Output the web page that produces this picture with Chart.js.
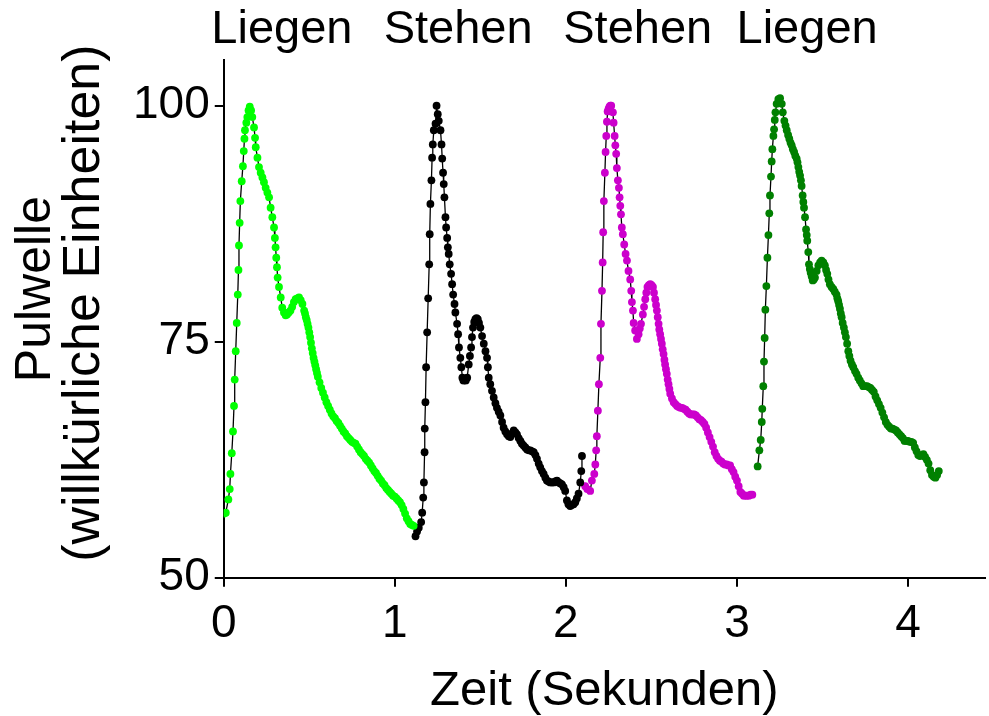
<!DOCTYPE html>
<html>
<head>
<meta charset="utf-8">
<script src="https://cdn.jsdelivr.net/npm/chart.js@4.4.1/dist/chart.umd.min.js"></script>
<style>
  body { margin: 0; background: #fff; }
</style>
</head>
<body>
<canvas id="pulsChart" width="989" height="716"></canvas>
<script>
// Pulse wave data: [time in s, pulse (arbitrary units)]
const liegen1 = [
  [0.002,56.8],[0.012,56.9],[0.027,58.3],[0.035,59.4],[0.039,61.0],[0.047,63.2],[0.054,65.5],[0.060,68.2],
  [0.064,71.0],[0.070,74.0],[0.076,77.0],[0.082,80.0],[0.086,82.6],[0.089,85.2],[0.093,87.6],[0.097,89.9],
  [0.105,92.0],[0.112,93.6],[0.117,95.2],[0.121,96.5],[0.124,97.4],[0.132,98.2],[0.138,98.8],[0.145,99.5],
  [0.152,99.9],[0.160,99.5],[0.167,98.8],[0.177,97.7],[0.183,96.6],[0.187,95.6],[0.197,94.5],[0.206,93.5],
  [0.216,92.9],[0.226,92.4],[0.235,91.9],[0.245,91.3],[0.255,90.8],[0.265,90.3],[0.274,89.2],[0.284,88.2],
  [0.294,87.1],[0.299,86.0],[0.303,85.0],[0.307,83.9],[0.311,82.9],[0.315,81.8],[0.323,80.8],[0.333,79.7],
  [0.342,78.6],[0.352,78.1],[0.362,77.8],[0.37,77.9],[0.38,78.1],[0.39,78.3],[0.40,78.7],[0.41,79.2],
  [0.42,79.5],[0.43,79.6],[0.44,79.7],[0.45,79.4],[0.46,79.0],[0.47,78.3],[0.475,78.0],[0.48,77.6],
  [0.485,77.3],[0.49,76.9],[0.495,76.5],[0.50,76.0],[0.505,75.5],[0.51,74.9],[0.515,74.3],[0.52,73.8],
  [0.525,73.3],[0.53,72.9],[0.535,72.5],[0.54,72.1],[0.545,71.7],[0.55,71.3],[0.56,70.7],[0.57,70.1],
  [0.58,69.6],[0.59,69.1],[0.60,68.6],[0.61,68.2],[0.62,67.8],[0.63,67.4],[0.64,67.1],[0.65,66.9],
  [0.66,66.6],[0.67,66.4],[0.68,66.1],[0.69,65.8],[0.70,65.5],[0.71,65.3],[0.72,65.0],[0.73,64.8],
  [0.74,64.6],[0.75,64.4],[0.76,64.3],[0.77,64.2],[0.78,63.9],[0.79,63.6],[0.80,63.3],[0.81,63.1],
  [0.82,62.9],[0.83,62.6],[0.84,62.4],[0.85,62.2],[0.86,61.9],[0.87,61.6],[0.88,61.3],[0.89,61.1],
  [0.90,60.8],[0.91,60.5],[0.92,60.3],[0.93,60.0],[0.94,59.8],[0.95,59.5],[0.96,59.3],[0.97,59.1],
  [0.98,58.9],[0.99,58.7],[1.00,58.6],[1.01,58.4],[1.02,58.2],[1.03,58.0],[1.04,57.7],[1.05,57.3],
  [1.06,56.8],[1.07,56.3],[1.08,56.0],[1.09,55.7],[1.10,55.6],[1.11,55.5]
];

const stehen1 = [
  [1.121,54.4],[1.130,54.9],[1.140,55.3],[1.154,55.9],[1.160,56.9],[1.166,58.5],[1.170,60.1],[1.174,63.3],
  [1.175,65.8],[1.179,68.6],[1.183,72.3],[1.189,76.0],[1.195,79.6],[1.201,83.2],[1.204,86.4],[1.208,89.6],
  [1.214,92.1],[1.218,94.5],[1.222,95.9],[1.228,97.4],[1.238,98.1],[1.244,100.0],[1.251,99.1],[1.257,98.4],
  [1.267,97.4],[1.273,95.9],[1.277,94.4],[1.282,92.9],[1.286,91.7],[1.290,90.3],[1.296,88.2],[1.300,87.1],
  [1.306,86.0],[1.310,85.0],[1.315,84.3],[1.321,83.2],[1.329,82.2],[1.335,81.1],[1.341,80.0],[1.349,79.0],
  [1.354,78.1],[1.364,76.9],[1.370,75.8],[1.375,74.4],[1.383,73.3],[1.389,72.3],[1.395,71.2],[1.401,70.9],
  [1.407,70.9],[1.415,70.9],[1.423,71.2],[1.432,72.6],[1.439,73.5],[1.446,74.4],[1.451,75.5],[1.457,76.5],
  [1.464,77.1],[1.471,77.4],[1.478,77.5],[1.485,77.4],[1.492,77.0],[1.500,76.5],[1.510,75.6],[1.520,74.8],
  [1.530,74.0],[1.539,73.3],[1.544,72.3],[1.549,71.2],[1.558,70.5],[1.568,69.8],[1.578,69.1],[1.588,68.5],
  [1.597,68.0],[1.607,67.6],[1.617,67.2],[1.627,66.5],[1.636,65.9],[1.646,65.5],[1.656,65.2],[1.666,65.0],
  [1.675,64.9],[1.685,65.3],[1.695,65.6],[1.705,65.4],[1.714,65.2],[1.724,64.8],[1.734,64.5],[1.743,64.2],
  [1.753,64.0],[1.763,63.8],[1.773,63.6],[1.783,63.5],[1.792,63.5],[1.802,63.4],[1.812,63.3],[1.822,63.0],
  [1.831,62.6],[1.841,62.1],[1.850,61.7],[1.860,61.3],[1.870,61.0],[1.880,60.6],[1.889,60.3],[1.899,60.2],
  [1.909,60.1],[1.919,60.1],[1.929,60.1],[1.938,60.2],[1.948,60.3],[1.958,60.1],[1.968,60.0],[1.977,59.9],
  [1.987,59.6],[1.996,59.2],[2.006,58.2],[2.015,57.8],[2.025,57.6],[2.035,57.7],[2.045,57.8],[2.055,58.0],
  [2.064,58.4],[2.074,58.9],[2.084,60.1],[2.090,61.3],[2.094,62.9]
];

const stehen2 = [
  [2.113,59.7],[2.125,59.4],[2.142,59.2],[2.152,60.3],[2.166,61.0],[2.172,62.0],[2.177,63.5],[2.181,65.0],
  [2.187,67.7],[2.193,70.5],[2.201,73.3],[2.205,76.9],[2.211,80.4],[2.215,83.4],[2.218,86.6],[2.222,89.9],
  [2.228,92.9],[2.232,95.1],[2.236,96.8],[2.240,98.3],[2.244,99.4],[2.250,99.7],[2.255,99.9],[2.260,100.0],
  [2.265,100.0],[2.275,99.3],[2.279,98.2],[2.285,96.8],[2.289,95.8],[2.294,94.9],[2.298,93.4],[2.304,92.1],
  [2.310,91.3],[2.314,90.3],[2.318,89.4],[2.322,88.5],[2.327,87.1],[2.333,86.4],[2.341,85.3],[2.349,84.3],
  [2.357,83.6],[2.366,82.5],[2.376,81.6],[2.382,80.4],[2.386,79.2],[2.392,78.3],[2.396,77.0],[2.405,76.2],
  [2.415,75.3],[2.425,75.8],[2.432,76.4],[2.439,76.9],[2.450,77.9],[2.457,78.7],[2.464,79.5],[2.470,80.2],
  [2.477,80.8],[2.485,81.0],[2.493,81.1],[2.501,81.0],[2.509,80.8],[2.515,80.2],[2.522,79.5],[2.527,78.9],
  [2.532,78.3],[2.537,77.6],[2.542,76.9],[2.546,76.3],[2.551,75.8],[2.556,75.3],[2.561,74.8],[2.566,74.2],
  [2.571,73.7],[2.576,73.1],[2.580,72.6],[2.585,72.1],[2.590,71.6],[2.595,71.0],[2.600,70.5],[2.605,70.0],
  [2.610,69.5],[2.62,69.0],[2.63,68.6],[2.64,68.4],[2.65,68.2],[2.66,68.1],[2.67,68.0],[2.68,68.0],
  [2.69,67.9],[2.70,67.8],[2.71,67.6],[2.72,67.4],[2.73,67.3],[2.74,67.3],[2.75,67.3],[2.76,67.2],
  [2.77,67.0],[2.78,66.8],[2.79,66.7],[2.80,66.5],[2.81,66.3],[2.82,65.9],[2.83,65.4],[2.84,64.9],
  [2.85,64.4],[2.86,63.9],[2.87,63.3],[2.88,62.9],[2.89,62.6],[2.90,62.4],[2.91,62.3],[2.92,62.1],
  [2.93,62.0],[2.94,62.0],[2.95,61.9],[2.96,61.9],[2.97,61.5],[2.98,61.2],[2.99,60.7],[3.00,60.3],
  [3.01,59.7],[3.02,59.1],[3.03,58.9],[3.04,58.7],[3.05,58.7],[3.06,58.7],[3.07,58.7],[3.08,58.8],
  [3.09,58.8]
];

const liegen2 = [
  [3.121,61.8],[3.131,63.5],[3.139,64.6],[3.145,66.5],[3.148,67.9],[3.154,70.3],[3.158,72.9],[3.162,75.4],
  [3.166,78.4],[3.172,80.9],[3.178,83.9],[3.184,86.3],[3.189,88.6],[3.193,90.5],[3.199,92.5],[3.203,94.1],
  [3.207,95.4],[3.213,96.8],[3.217,97.5],[3.221,98.5],[3.225,99.3],[3.232,100.2],[3.242,100.7],[3.252,100.8],
  [3.262,100.2],[3.268,99.3],[3.277,98.4],[3.284,97.9],[3.291,97.4],[3.299,96.9],[3.306,96.5],[3.313,96.1],
  [3.320,95.8],[3.327,95.4],[3.334,95.1],[3.341,94.7],[3.349,94.4],[3.354,94.0],[3.359,93.5],[3.364,93.0],
  [3.369,92.6],[3.374,92.1],[3.378,91.5],[3.384,90.5],[3.388,89.8],[3.392,89.2],[3.398,88.2],[3.404,86.9],
  [3.408,86.3],[3.411,85.7],[3.417,84.5],[3.421,83.2],[3.426,82.7],[3.431,82.3],[3.437,81.9],[3.443,81.5],
  [3.449,81.6],[3.456,81.8],[3.466,82.5],[3.476,83.1],[3.486,83.4],[3.495,83.6],[3.505,83.4],[3.514,83.1],
  [3.521,82.6],[3.528,82.2],[3.535,81.6],[3.543,81.1],[3.553,80.8],[3.563,80.6],[3.572,80.3],[3.582,80.0],
  [3.587,79.6],[3.592,79.3],[3.597,78.9],[3.602,78.5],[3.607,78.0],[3.612,77.6],[3.618,77.0],[3.625,76.5],
  [3.631,76.0],[3.637,75.5],[3.644,74.8],[3.651,74.0],[3.657,73.5],[3.664,73.0],[3.672,72.6],[3.680,72.3],
  [3.690,71.9],[3.699,71.6],[3.709,71.2],[3.718,70.9],[3.728,70.6],[3.738,70.3],[3.75,70.3],[3.76,70.3],
  [3.77,70.2],[3.78,70.1],[3.79,69.9],[3.80,69.7],[3.81,69.2],[3.82,68.8],[3.83,68.4],[3.84,68.0],
  [3.85,67.5],[3.86,67.0],[3.87,66.5],[3.88,66.2],[3.89,66.0],[3.90,65.8],[3.91,65.8],[3.92,65.7],
  [3.93,65.6],[3.94,65.4],[3.95,65.2],[3.96,65.0],[3.97,64.8],[3.98,64.5],[3.99,64.5],[4.00,64.5],
  [4.01,64.4],[4.02,64.4],[4.03,64.3],[4.04,63.8],[4.05,63.4],[4.06,63.0],[4.07,62.9],[4.08,63.0],
  [4.09,63.1],[4.10,62.8],[4.11,62.5],[4.12,62.1],[4.13,61.4],[4.14,60.9],[4.15,60.7],[4.16,60.6],
  [4.17,60.9],[4.18,61.3]
];

// Axis ticks and the position labels on top
const xTicks = [0, 1, 2, 3, 4];
const yTicks = [50, 75, 100];
const positionNames = ['Liegen', 'Stehen', 'Stehen', 'Liegen'];
const positionAt = [0.34, 1.37, 2.42, 3.41];
const yTitleLines = ['Pulwelle', '(willkürliche Einheiten)'];

const family = "'Liberation Sans', Arial, sans-serif";

function series(rows, color) {
  return {
    data: rows.map(r => ({ x: r[0], y: r[1] })),
    showLine: true,
    borderColor: '#000',
    borderWidth: 1.3,
    pointRadius: 3.9,
    pointBorderWidth: 0,
    pointBackgroundColor: color,
    pointHoverRadius: 3.9
  };
}

// y title drawn by hand: it sits a bit above the axis middle in the original
const yTitlePlugin = {
  id: 'yTitle',
  afterDraw(chart) {
    const c = chart.ctx;
    const area = chart.chartArea;
    const mid = (area.top + area.bottom) / 2;
    const lines = [
      { x: 36, y: mid - 30, size: 50 },
      { x: 85, y: mid - 16, size: 52 }
    ];
    c.save();
    c.fillStyle = '#000';
    c.textAlign = 'center';
    c.textBaseline = 'middle';
    lines.forEach((l, i) => {
      c.save();
      c.font = l.size + 'px ' + family;
      c.translate(l.x, l.y);
      c.rotate(-Math.PI / 2);
      c.fillText(yTitleLines[i], 0, 0);
      c.restore();
    });
    c.restore();
  }
};

const ctx = document.getElementById('pulsChart').getContext('2d');
new Chart(ctx, {
  type: 'scatter',
  data: {
    datasets: [
      series(liegen1, '#00ff00'),
      series(stehen1, '#000000'),
      series(stehen2, '#cc00cc'),
      series(liegen2, '#008000')
    ]
  },
  options: {
    responsive: false,
    animation: false,
    layout: { padding: { left: 128, right: 4, top: 0, bottom: 0 } },
    plugins: {
      legend: { display: false },
      tooltip: { enabled: false }
    },
    scales: {
      x: {
        type: 'linear',
        min: 0,
        max: 4.45,
        afterBuildTicks: s => { s.ticks = xTicks.map(v => ({ value: v })); },
        grid: { drawOnChartArea: false, color: '#000', lineWidth: 2, tickLength: 9 },
        border: { color: '#000', width: 2 },
        ticks: { color: '#000', font: { family, size: 46 }, padding: 10, maxRotation: 0 },
        title: {
          display: true, text: 'Zeit (Sekunden)', color: '#000',
          font: { family, size: 49, lineHeight: 1.0 }, padding: { top: 5, bottom: 0 }
        }
      },
      x2: {
        type: 'linear',
        position: 'top',
        min: 0,
        max: 4.45,
        afterBuildTicks: s => { s.ticks = positionAt.map(v => ({ value: v })); },
        grid: { display: false, drawTicks: false },
        border: { display: false },
        ticks: {
          color: '#000', font: { family, size: 47 }, padding: 2, maxRotation: 0, autoSkip: false,
          callback: (v, i) => positionNames[i]
        }
      },
      y: {
        type: 'linear',
        min: 50,
        max: 104.8,
        afterBuildTicks: s => { s.ticks = yTicks.map(v => ({ value: v })); },
        grid: { drawOnChartArea: false, color: '#000', lineWidth: 2, tickLength: 9 },
        border: { color: '#000', width: 2 },
        ticks: { color: '#000', font: { family, size: 46 }, padding: 5 }
      }
    }
  },
  plugins: [yTitlePlugin]
});
</script>
</body>
</html>
